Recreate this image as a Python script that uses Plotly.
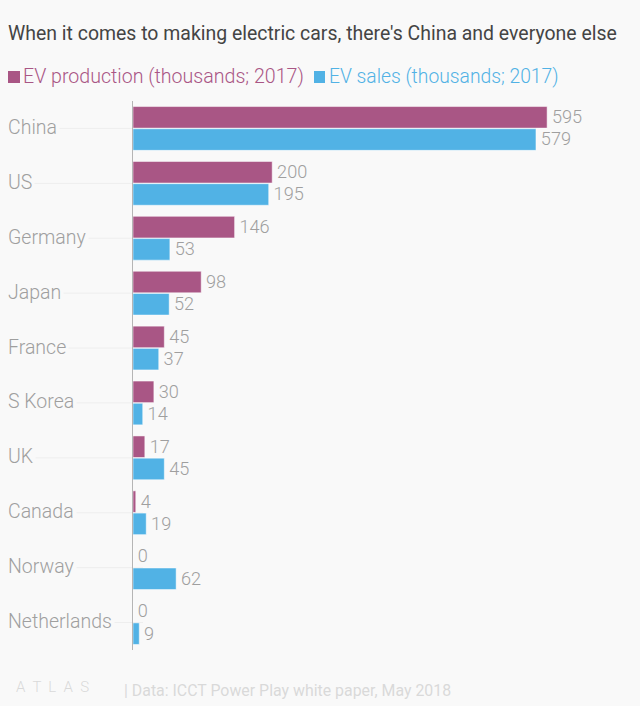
import plotly.graph_objects as go

categories = ["China", "US", "Germany", "Japan", "France", "S Korea", "UK", "Canada", "Norway", "Netherlands"]
production = [595, 200, 146, 98, 45, 30, 17, 4, 0, 0]
sales = [579, 195, 53, 52, 37, 14, 45, 19, 62, 9]
prod_name = "EV production (thousands; 2017)"
sales_name = "EV sales (thousands; 2017)"
title = "When it comes to making electric cars, there's China and everyone else"
source = "| Data: ICCT Power Play white paper, May 2018"
brand = "ATLAS"

PURPLE = "#a95685"
BLUE = "#51b2e5"
BG = "#f9f9f9"
FONT = "Roboto"
GREY = "#9f9f9f"
W, H = 640, 720
L, R, T, B = 133, 640, 101, 650
PW, PH = R - L, B - T


def px(v):
    return (v - L) / PW


def py(v):
    return (B - v) / PH


fig = go.Figure()
for name, vals, col in [(prod_name, production, PURPLE), (sales_name, sales, BLUE)]:
    fig.add_trace(go.Bar(
        name=name, y=categories, x=vals, orientation="h",
        marker=dict(color=col, line=dict(color="#ffffff", width=0.5)),
        text=["\u200a" + str(v) for v in vals], textposition="outside", cliponaxis=False,
        textfont=dict(family=FONT, size=18.5, color=GREY, weight=300),
    ))


def note(text, x, y, size, color, weight=400):
    return dict(text=text, xref="paper", yref="paper", x=px(x), y=py(y), xanchor="left", yanchor="middle",
                xshift=-2, showarrow=False, font=dict(family=FONT, size=size, color=color, weight=weight))


annotations = [
    note(title, 8, 34, 19.45, "#444444"),
    note(prod_name, 23, 77, 19.6, PURPLE, 300),
    note(sales_name, 329, 77, 19.3, BLUE, 300),
    note(source, 124, 690, 15.9, "#d9d9d9"),
    note("  ".join(brand), 16, 687, 15, "#d9d9d9", 300),
]
for c in categories:
    annotations.append(dict(text=c, xref="paper", yref="y", x=px(5), y=c, xanchor="left", yanchor="middle",
                            yshift=1, showarrow=False, bgcolor=BG, borderpad=2,
                            font=dict(family=FONT, size=19.5, color=GREY, weight=300)))

shapes = [
    dict(type="rect", xref="paper", yref="paper", x0=px(0), x1=1, y0=py(706), y1=py(0),
         fillcolor=BG, line_width=0, layer="below"),
    dict(type="rect", xref="paper", yref="paper", x0=px(8), x1=px(20), y0=py(83), y1=py(71),
         fillcolor=PURPLE, line_width=0, layer="below"),
    dict(type="rect", xref="paper", yref="paper", x0=px(314), x1=px(325), y0=py(83), y1=py(71),
         fillcolor=BLUE, line_width=0, layer="below"),
]
for c in categories:
    shapes.append(dict(type="line", xref="paper", yref="y", x0=px(30), x1=px(143), y0=c, y1=c,
                       line=dict(color="#eeeeee", width=1), layer="below"))

fig.update_layout(
    width=W, height=H, margin=dict(l=L, r=W - R, t=T, b=H - B, pad=0),
    paper_bgcolor="#ffffff", plot_bgcolor="rgba(0,0,0,0)", showlegend=False,
    barmode="group", bargap=0.19, bargroupgap=0.03,
    annotations=annotations, shapes=shapes,
    xaxis=dict(range=[0, PW / 0.696], showgrid=False, zeroline=False, showticklabels=False, ticks=""),
    yaxis=dict(categoryorder="array", categoryarray=categories, autorange="reversed", showticklabels=False,
               ticks="", showgrid=False, showline=True, linecolor="#b5b5b5", linewidth=1),
)
fig.write_html("out.html", config={"displayModeBar": False},
               post_script="document.body.style.margin='0';window.dispatchEvent(new Event('resize'));")
